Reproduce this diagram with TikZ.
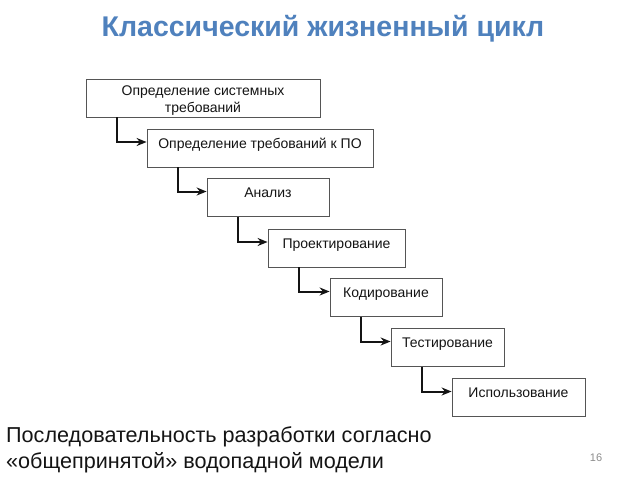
\documentclass[tikz,border=0pt]{standalone}
\usepackage{fontspec}
\setmainfont{Liberation Sans}
\usetikzlibrary{arrows.meta}
\definecolor{titlecol}{RGB}{ 79,129,189}
\definecolor{boxedge} {RGB}{ 85, 85, 85}
\definecolor{flowcol} {RGB}{ 20, 20, 20}
\definecolor{textcol} {RGB}{ 20, 20, 20}
\definecolor{pagecol} {RGB}{140,140,140}

\begin{document}
\begin{tikzpicture}[
  % one unit = one pixel of the 640x480 slide, y pointing down
  x=1pt,y=-1pt,
  >={Stealth[length=10pt,width=8pt]},
  line join=miter,
  stage/.style={draw=boxedge,line width=0.8pt,fill=white,minimum height=38pt,
    inner sep=0pt,font=\fontsize{14}{17}\selectfont,text=textcol,
    text height=10pt,text depth=10pt},
  flow/.style={draw=flowcol,line width=2pt,->}
]
\useasboundingbox (0,0) rectangle (640,480);

% ---- title ---------------------------------------------------------------
\node[text=titlecol,font=\fontsize{28.5}{32}\selectfont\bfseries] (title)
  at (323,29) {Классический жизненный цикл};

% ---- stages of the cascade -----------------------------------------------
\node[stage,minimum width=234pt,text height=33pt,text depth=4pt,align=center,
  font=\fontsize{14}{17}\selectfont] (sysreq) at (203,98)
  {Определение системных\\требований};
\node[stage,minimum width=226pt] (swreq)  at (260,148)   {Определение требований к ПО};
\node[stage,minimum width=122pt] (anal)   at (268,197.5) {Анализ};
\node[stage,minimum width=137pt] (design) at (336.5,248) {Проектирование};
\node[stage,minimum width=112pt] (coding) at (386,297.5) {Кодирование};
\node[stage,minimum width=113pt] (test)   at (447.5,347.5) {Тестирование};
\node[stage,minimum width=133pt] (usage)  at (518.5,397.5) {Использование};

% ---- connectors ----------------------------------------------------------
\draw[flow] ([xshift=31pt]sysreq.south west) |- ([yshift=6pt]swreq.west);
\draw[flow] ([xshift=31pt]swreq.south west)  |- ([yshift=6pt]anal.west);
\draw[flow] ([xshift=31pt]anal.south west)   |- ([yshift=6pt]design.west);
\draw[flow] ([xshift=31pt]design.south west) |- ([yshift=6pt]coding.west);
\draw[flow] ([xshift=31pt]coding.south west) |- ([yshift=6pt]test.west);
\draw[flow] ([xshift=31pt]test.south west)   |- ([yshift=6pt]usage.west);

% ---- caption -------------------------------------------------------------
\node[anchor=north west,align=left,text=textcol,inner sep=0pt,
  font=\fontsize{21.6}{26}\selectfont] (caption) at (6,426)
  {Последовательность разработки согласно\\«общепринятой» водопадной модели};
\node[text=pagecol,font=\rmfamily\fontsize{11}{13}\selectfont] (pageno)
  at (596,458) {16};

\end{tikzpicture}
\end{document}
